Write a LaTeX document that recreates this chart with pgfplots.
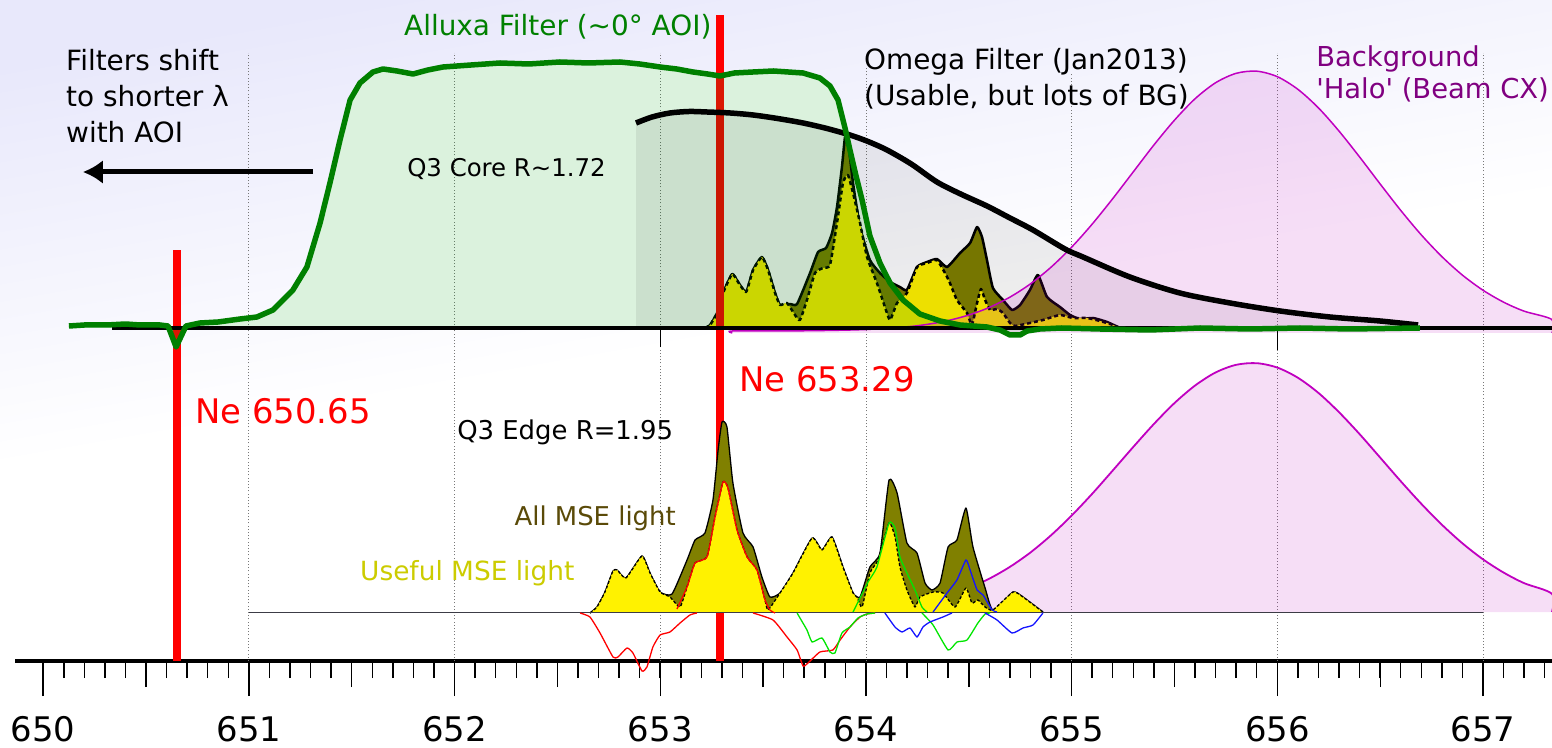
\documentclass[border=0pt]{standalone}
\usepackage{fontspec}
\setmainfont{DejaVu Sans}[Ligatures=TeXOff]
\usepackage{pgfplots}
\pgfplotsset{compat=1.18}
\usetikzlibrary{arrows.meta}

\definecolor{lav}{RGB}{232,232,251}
\definecolor{filtgreen}{RGB}{0,128,0}
\definecolor{fillgreen}{RGB}{0,165,20}
\definecolor{halo}{RGB}{192,0,192}
\definecolor{halotext}{RGB}{128,0,128}
\definecolor{olivefill}{RGB}{128,128,0}
\definecolor{allmse}{RGB}{90,74,8}
\definecolor{usefulmse}{RGB}{204,204,0}
\definecolor{compgreen}{RGB}{0,230,0}
\definecolor{compblue}{RGB}{20,20,255}
\definecolor{gridgray}{RGB}{120,120,120}
\definecolor{basedark}{RGB}{60,60,70}

\pgfplotstableread{
x y
650.125 335
650.200 336
650.310 336
650.400 337
650.471 336
650.568 336
650.607 335
650.646 314
650.694 335
650.762 338
650.850 339
650.957 342
651.039 344
651.117 351
651.214 371
651.282 394
651.346 438
651.394 478
651.443 521
651.492 561
651.540 578
651.603 589
651.652 592
651.720 590
651.798 587
651.870 591
651.944 594
652.080 596
652.221 598
652.360 597
652.512 599
652.650 598
652.804 599
652.900 597
652.999 594
653.080 592
653.159 589
653.230 587
653.290 585
653.360 588
653.451 589
653.550 590
653.694 588
653.776 583
653.825 575
653.864 561
653.898 533
653.922 511
653.947 489
653.981 461
654.019 425
654.068 398
654.117 378
654.180 361
654.262 347
654.360 340
654.457 336
654.588 334
654.651 331
654.700 326
654.749 326
654.783 330
654.846 332
654.950 333
655.138 332
655.381 331
655.624 333
655.867 332
656.110 333
656.353 332
656.693 333
}\alluxa

\begin{document}
\begin{tikzpicture}[lbl/.style={inner sep=0pt, anchor=base west}]
\begin{axis}[
  scale only axis, width=1552bp, height=661bp,
  xmin=649.790, xmax=657.335, ymin=0, ymax=661,
  clip=false,
  axis x line*=bottom, axis y line=none,
  x axis line style={line width=3.3bp, -, shorten <=15bp},
  xtick={650,...,657},
  minor xtick={650.1,650.2,...,657.3},
  extra x ticks={650.5,651.5,...,656.5},
  extra x tick labels={},
  extra x tick style={major tick length=26bp},
  major tick length=35bp, minor tick length=17bp,
  xtick align=outside,
  tick style={black, line width=1.5bp},
  ticklabel style={font=\fontsize{34}{40}\selectfont},
  xticklabel style={yshift=-17bp},
  /pgf/number format/assume math mode=true,
  /pgf/number format/1000 sep={},
  axis background/.style={shade, top color=lav, bottom color=white, middle color=white, shading angle=10},
]

% white underlay of the Alluxa filter area
\addplot[draw=none, fill=white] table {\alluxa} -- (axis cs:656.693,333) -- (axis cs:650.125,333) -- cycle;

% dotted grid lines
\addplot[ycomb, gridgray, line width=1bp, dash pattern=on 1bp off 2.2bp] coordinates {(651,608) (652,608) (653,608) (654,594) (655,588) (656,608) (657,608)};

% Ne lines (lower parts)
\addplot[red, line width=7.5bp] coordinates {(650.65,0) (650.65,411)};
\addplot[red, line width=7.5bp] coordinates {(653.29,0) (653.29,322)};

% lower background halo
\addplot[halo, line width=1.8bp, fill=halo, fill opacity=0.13, smooth, tension=0.5] coordinates {
(653.8,49) (654.0,52.2) (654.1,54.1) (654.2,56.8) (654.3,60.6) (654.4,65.9) (654.5,73.1) (654.6,82.4) (654.7,94.2) (654.8,108.6) (654.9,125.8) (655.0,145.5) (655.1,167.3) (655.2,190.6) (655.3,214.2) (655.4,237.1) (655.5,258.0) (655.6,275.5) (655.7,288.6) (655.8,296.2) (655.9,297.8) (656.0,293.4) (656.1,283.2) (656.2,268.0) (656.3,248.7) (656.4,226.8) (656.5,203.3) (656.6,179.7) (656.7,157.1) (656.8,136.2) (656.9,117.6) (657.0,101.6) (657.1,88.4) (657.2,77.8) (657.335,67.1) (657.335,49)};

% lower: all MSE light
\addplot[draw=black, line width=1.3bp, fill=olivefill, line join=round, smooth, tension=0.3] coordinates {
(652.658,48) (652.692,54) (652.731,69) (652.770,90) (652.790,91) (652.833,83) (652.911,105) (652.950,88) (652.999,69) (653.057,67) (653.130,101) (653.169,121) (653.217,128) (653.256,161) (653.281,211) (653.300,239) (653.324,234) (653.353,178) (653.402,128) (653.451,114) (653.494,84) (653.533,64) (653.582,68) (653.645,88) (653.738,123) (653.786,111) (653.835,124) (653.888,94) (653.937,68) (653.971,64) (654.019,94) (654.068,108) (654.112,181) (654.151,168) (654.199,118) (654.248,108) (654.287,78) (654.321,71) (654.360,78) (654.399,114) (654.442,121) (654.486,153) (654.520,114) (654.579,73) (654.617,51) (654.715,69) (654.763,64) (654.860,49)};
% lower: useful MSE light
\addplot[draw=black, line width=1.3bp, dash pattern=on 3bp off 2bp, fill=yellow, line join=round, smooth, tension=0.3] coordinates {
(652.658,48) (652.692,54) (652.731,69) (652.770,90) (652.790,91) (652.833,83) (652.911,105) (652.950,88) (652.999,69) (653.047,64) (653.096,54) (653.130,74) (653.169,98) (653.227,104) (653.266,144) (653.305,179) (653.329,173) (653.373,131) (653.422,104) (653.470,91) (653.509,61) (653.524,51) (653.582,68) (653.645,88) (653.738,123) (653.786,111) (653.835,124) (653.888,94) (653.937,68) (653.956,64) (653.981,54) (654.019,88) (654.058,101) (654.112,138) (654.141,124) (654.165,94) (654.199,71) (654.238,54) (654.262,64) (654.326,69) (654.374,68) (654.433,54) (654.486,73) (654.515,58) (654.544,61) (654.579,54) (654.617,51) (654.715,69) (654.763,64) (654.860,49)};

% lower baseline
\addplot[basedark, line width=1.6bp] coordinates {(651,48.5) (657,48.5)};

% components
\addplot[red, line width=1.3bp, smooth, tension=0.3] coordinates {(653.081,52) (653.130,74) (653.169,98) (653.227,104) (653.266,144) (653.305,179) (653.329,173) (653.373,131) (653.422,104) (653.470,91) (653.509,61) (653.533,51) (653.558,48)};
\addplot[red, line width=1.3bp, smooth, tension=0.3] coordinates {(652.610,48) (652.658,44) (652.707,28) (652.770,4) (652.794,4) (652.838,13) (652.867,8) (652.911,-10) (652.935,-6) (652.964,14) (652.999,26) (653.047,29) (653.096,38) (653.144,46) (653.178,48)};
\addplot[red, line width=1.3bp, smooth, tension=0.3] coordinates {(653.451,48) (653.548,41) (653.616,24) (653.665,11) (653.694,-5) (653.718,-2) (653.776,9) (653.839,11) (653.874,21) (653.922,34) (653.971,44) (654.005,47) (654.044,48)};
\addplot[compgreen, line width=1.3bp, smooth, tension=0.3] coordinates {(653.937,49) (654.010,79) (654.053,94) (654.112,138) (654.141,133) (654.165,104) (654.199,88) (654.238,71) (654.272,54) (654.297,49)};
\addplot[compgreen, line width=1.3bp, smooth, tension=0.3] coordinates {(653.665,48) (653.679,43) (653.713,31) (653.738,19) (653.786,23) (653.825,9) (653.849,8) (653.883,28) (653.922,34) (653.961,43) (654.005,47) (654.044,48)};
\addplot[compgreen, line width=1.3bp, smooth, tension=0.3] coordinates {(654.272,48) (654.326,36) (654.399,11) (654.442,19) (654.491,21) (654.544,38) (654.579,47) (654.603,48)};
\addplot[compblue, line width=1.3bp, smooth, tension=0.3] coordinates {(654.326,49) (654.394,68) (654.442,81) (654.486,101) (654.506,91) (654.540,71) (654.569,66) (654.613,51) (654.637,49)};
\addplot[compblue, line width=1.3bp, smooth, tension=0.3] coordinates {(654.092,48) (654.141,34) (654.175,29) (654.214,33) (654.248,24) (654.277,34) (654.311,39) (654.374,44) (654.418,48)};
\addplot[compblue, line width=1.3bp, smooth, tension=0.3] coordinates {(654.579,48) (654.637,41) (654.710,28) (654.763,33) (654.812,36) (654.860,48)};

% upper: all MSE light
\addplot[draw=black, line width=2.5bp, fill=olivefill, line join=round, smooth, tension=0.3] coordinates {
(653.217,333) (653.242,336) (653.276,348) (653.305,368) (653.349,387) (653.378,379) (653.417,369) (653.451,391) (653.494,404) (653.524,391) (653.558,368) (653.582,356) (653.631,357) (653.665,357) (653.728,388) (653.767,409) (653.806,413) (653.835,428) (653.859,454) (653.883,494) (653.898,524) (653.912,521) (653.937,478) (653.971,434) (654.019,401) (654.068,388) (654.117,379) (654.165,374) (654.199,371) (654.248,394) (654.297,399) (654.345,402) (654.394,394) (654.457,408) (654.506,418) (654.540,434) (654.564,424) (654.588,401) (654.617,373) (654.666,361) (654.710,351) (654.749,356) (654.797,371) (654.836,386) (654.880,364) (654.943,354) (654.992,346) (655.040,342) (655.104,343) (655.172,339) (655.235,333)};
% upper: useful MSE light
\addplot[draw=black, line width=2.5bp, dash pattern=on 4bp off 3bp, fill=yellow, line join=round, smooth, tension=0.3] coordinates {
(653.217,333) (653.242,336) (653.276,348) (653.305,368) (653.349,387) (653.378,379) (653.417,369) (653.451,391) (653.494,404) (653.524,391) (653.558,368) (653.582,356) (653.616,358) (653.655,346) (653.679,341) (653.713,361) (653.752,388) (653.791,393) (653.825,396) (653.859,438) (653.888,478) (653.912,486) (653.937,468) (653.971,438) (654.005,404) (654.053,378) (654.092,354) (654.117,341) (654.151,358) (654.199,368) (654.248,394) (654.297,398) (654.345,401) (654.384,388) (654.408,378) (654.442,361) (654.491,348) (654.515,336) (654.540,358) (654.559,372) (654.579,361) (654.603,351) (654.637,352) (654.666,348) (654.700,338) (654.724,335) (654.797,338) (654.860,341) (654.943,346) (655.006,343) (655.074,343) (655.138,340) (655.201,336) (655.235,333)};

% Ne 653.29 upper part
\addplot[red, line width=7.5bp] coordinates {(653.29,322) (653.29,646)};

% Alluxa filter fill (translucent)
\addplot[draw=none, fill=fillgreen, fill opacity=0.14] table {\alluxa} -- (axis cs:656.693,333) -- (axis cs:650.125,333) -- cycle;

% Omega filter fill
\addplot[draw=none, fill=black, fill opacity=0.07] coordinates {
(652.882,333) (652.882,538) (652.960,544) (653.047,548) (653.140,549.5) (653.227,549) (653.340,548) (653.451,546) (653.570,542.5) (653.694,538) (653.810,532.5) (653.922,526) (654.010,519.5) (654.102,511) (654.220,497) (654.345,479) (654.460,467) (654.588,455) (654.700,443) (654.812,431) (654.967,412) (655.055,404) (655.283,384) (655.526,368) (655.770,358) (656.013,350) (656.256,344) (656.499,340) (656.684,336) (656.684,333)};

% upper background halo
\addplot[halo, line width=1.5bp, fill=halo, fill opacity=0.13, smooth, tension=0.5] coordinates {
(653.35,328) (653.35,330.0) (653.6,330.1) (653.8,330.5) (654.0,331.5) (654.2,334.2) (654.3,336.7) (654.4,340.5) (654.5,346.0) (654.6,353.6) (654.7,363.9) (654.8,377.2) (654.9,393.9) (655.0,413.9) (655.1,437.0) (655.2,462.5) (655.3,489.3) (655.4,516.1) (655.5,540.9) (655.6,562.3) (655.7,578.3) (655.8,587.7) (655.9,589.8) (656.0,584.3) (656.1,571.6) (656.2,553.0) (656.3,529.8) (656.4,503.9) (656.5,476.9) (656.6,450.5) (656.7,426.0) (656.8,404.3) (656.9,385.8) (657.0,370.7) (657.1,358.8) (657.2,349.8) (657.335,341.4) (657.335,328)};

% upper baseline and ticks
\addplot[black, line width=4bp] coordinates {(650.334,333) (657.335,333)};
\addplot[black, line width=1.5bp] coordinates {(653,333) (653,314)};
\addplot[black, line width=1.5bp] coordinates {(656,333) (656,311)};

% Omega filter curve
\addplot[black, line width=5.5bp, smooth, tension=0.5] coordinates {
(652.882,538) (652.960,544) (653.047,548) (653.140,549.5) (653.227,549) (653.340,548) (653.451,546) (653.570,542.5) (653.694,538) (653.810,532.5) (653.922,526) (654.010,519.5) (654.102,511) (654.220,497) (654.345,479) (654.460,467) (654.588,455) (654.700,443) (654.812,431) (654.967,412) (655.055,404) (655.283,384) (655.526,368) (655.770,358) (656.013,350) (656.256,344) (656.499,340) (656.684,336)};

% Alluxa filter curve
\addplot[filtgreen, line width=5.5bp, line join=round] table {\alluxa};

% arrow
\addplot[black, line width=5bp, -{Latex[length=20bp,width=24bp]}] coordinates {(651.312,489) (650.193,489)};

% labels
\node[lbl, font=\fontsize{28}{34}\selectfont] at (axis cs:650.111,590) {Filters shift};
\node[lbl, font=\fontsize{28}{34}\selectfont] at (axis cs:650.111,554) {to shorter λ};
\node[lbl, font=\fontsize{28}{34}\selectfont] at (axis cs:650.111,518) {with AOI};
\node[lbl, font=\fontsize{28}{34}\selectfont, text=filtgreen] at (axis cs:651.754,625) {Alluxa Filter (\textasciitilde0° AOI)};
\node[lbl, font=\fontsize{24.5}{30}\selectfont] at (axis cs:651.769,484) {Q3 Core R\textasciitilde1.72};
\node[lbl, font=\fontsize{28}{34}\selectfont] at (axis cs:653.990,591) {Omega Filter (Jan2013)};
\node[lbl, font=\fontsize{28}{34}\selectfont] at (axis cs:653.990,555) {(Usable, but lots of BG)};
\node[lbl, font=\fontsize{27.5}{34}\selectfont, text=halotext] at (axis cs:656.188,594) {Background};
\node[lbl, font=\fontsize{27.5}{34}\selectfont, text=halotext] at (axis cs:656.188,562) {'Halo' (Beam CX)};
\node[lbl, font=\fontsize{34}{40}\selectfont, text=red] at (axis cs:650.738,237) {Ne 650.65};
\node[lbl, font=\fontsize{34}{40}\selectfont, text=red] at (axis cs:653.383,269) {Ne 653.29};
\node[lbl, font=\fontsize{26}{32}\selectfont] at (axis cs:652.012,221) {Q3 Edge R=1.95};
\node[inner sep=0pt, anchor=base east, font=\fontsize{26}{32}\selectfont, text=allmse] at (axis cs:653.076,136) {All MSE light};
\node[lbl, font=\fontsize{26.5}{32}\selectfont, text=usefulmse] at (axis cs:651.540,81) {Useful MSE light};
\end{axis}
\pgfresetboundingbox
\useasboundingbox (current axis.south west) ++(0,-87bp) rectangle (current axis.north east);
\end{tikzpicture}
\end{document}
